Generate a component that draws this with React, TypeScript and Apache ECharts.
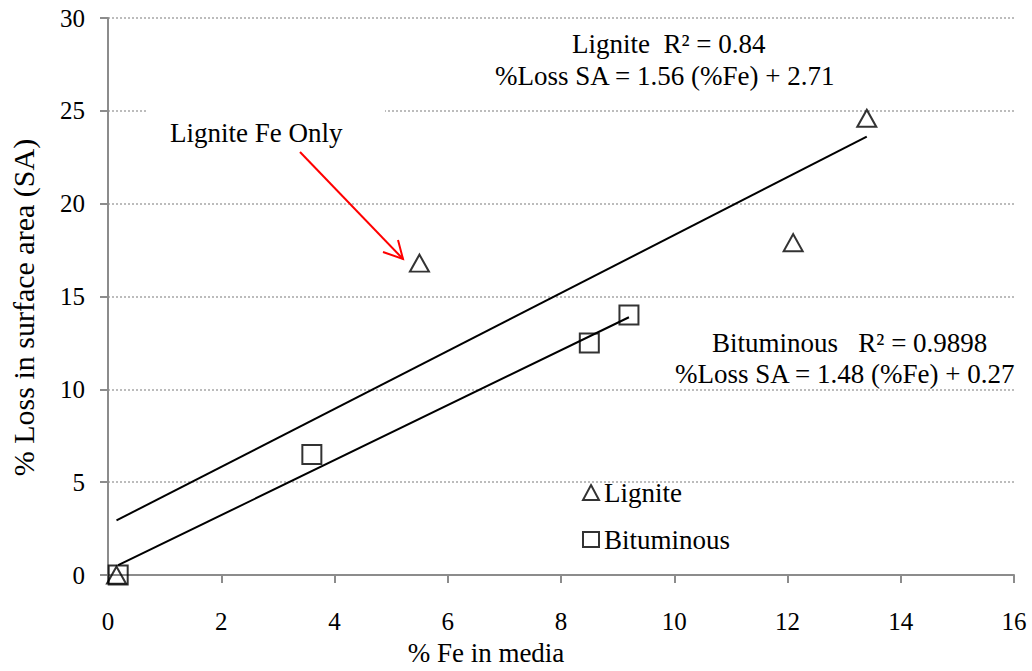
import React, { useEffect, useRef } from "react";
import * as echarts from "echarts";

// Measured points: [% Fe in media, % loss in surface area]
const ligniteData: [number, number][] = [
  [0.15, 0],
  [5.5, 16.8],
  [12.1, 17.9],
  [13.4, 24.6],
];
const bituminousData: [number, number][] = [
  [0.18, 0],
  [3.6, 6.5],
  [8.5, 12.5],
  [9.2, 14.0],
];

// Linear fits as stated in the annotations
const ligniteFit = { slope: 1.56, intercept: 2.71, xFrom: 0.15, xTo: 13.4 };
const bituminousFit = { slope: 1.48, intercept: 0.27, xFrom: 0.18, xTo: 9.2 };

const xTicks = [0, 2, 4, 6, 8, 10, 12, 14, 16];
const yTicks = [0, 5, 10, 15, 20, 25, 30];

const FONT = "'Liberation Serif', 'Times New Roman', serif";

function fitLine(f: { slope: number; intercept: number; xFrom: number; xTo: number }) {
  return [f.xFrom, f.xTo].map((x) => [x, f.slope * x + f.intercept]);
}

export default function App() {
  const ref = useRef<HTMLDivElement>(null);

  useEffect(() => {
    if (!ref.current) return;
    const chart = echarts.init(ref.current, undefined, { renderer: "svg" });
    const axisGray = "#8c8c8c";
    const txt = (text: string, left: number, top: number, z = 5) => ({
      type: "text",
      left,
      top,
      z,
      style: { text, fontFamily: FONT, fontSize: 27, fill: "#000" },
    });
    chart.setOption({
      animation: false,
      backgroundColor: "#ffffff",
      textStyle: { fontFamily: FONT },
      grid: { left: 105, right: 18, top: 18, bottom: 93 },
      xAxis: {
        type: "value",
        min: xTicks[0],
        max: xTicks[xTicks.length - 1],
        interval: 2,
        name: "% Fe in media",
        nameLocation: "middle",
        nameGap: 62,
        nameTextStyle: {
          fontFamily: FONT,
          fontSize: 27,
          color: "#000",
          padding: [0, 150, 0, 0],
        },
        axisLine: { show: true, onZero: false, lineStyle: { color: axisGray, width: 2 } },
        axisTick: { show: true, length: 8, lineStyle: { color: axisGray, width: 2 } },
        axisLabel: { fontFamily: FONT, fontSize: 25, color: "#000", margin: 34 },
        splitLine: { show: false },
      },
      yAxis: {
        type: "value",
        min: yTicks[0],
        max: yTicks[yTicks.length - 1],
        interval: 5,
        name: "% Loss in surface area (SA)",
        nameLocation: "middle",
        nameGap: 70,
        nameTextStyle: {
          fontFamily: FONT,
          fontSize: 30,
          color: "#000",
          padding: [0, 22, 0, 0],
        },
        axisLine: { show: true, lineStyle: { color: axisGray, width: 2 } },
        axisTick: { show: true, length: 8, lineStyle: { color: axisGray, width: 2 } },
        axisLabel: { fontFamily: FONT, fontSize: 25, color: "#000", margin: 23 },
        splitLine: { show: true, lineStyle: { color: "#a6a6a6", type: [2, 2], width: 1.5 } },
      },
      legend: {
        data: ["Lignite", "Bituminous"],
        orient: "vertical",
        left: 577,
        top: 474,
        itemGap: 20,
        itemWidth: 16,
        itemHeight: 15,
        textStyle: { fontFamily: FONT, fontSize: 27, lineHeight: 27, color: "#000" },
      },
      series: [
        {
          name: "Lignite fit",
          type: "line",
          data: fitLine(ligniteFit),
          showSymbol: false,
          lineStyle: { color: "#000", width: 2 },
          silent: true,
          z: 2,
        },
        {
          name: "Bituminous fit",
          type: "line",
          data: fitLine(bituminousFit),
          showSymbol: false,
          lineStyle: { color: "#000", width: 2 },
          silent: true,
          z: 2,
        },
        {
          name: "Bituminous",
          type: "scatter",
          data: bituminousData,
          symbol: "rect",
          symbolSize: 19,
          itemStyle: { color: "rgba(255,255,255,0)", borderColor: "#000", borderWidth: 2 },
          z: 3,
        },
        {
          name: "Lignite",
          type: "scatter",
          data: ligniteData,
          symbol: "triangle",
          symbolSize: [19, 17],
          itemStyle: { color: "rgba(255,255,255,0)", borderColor: "#000", borderWidth: 2 },
          z: 4,
        },
      ],
      graphic: [
        txt("Lignite  R² = 0.84", 572, 30),
        txt("%Loss SA = 1.56 (%Fe) + 2.71", 495, 62),
        txt("Bituminous   R² = 0.9898", 712, 329),
        txt("%Loss SA = 1.48 (%Fe) + 0.27", 675, 360),
        {
          type: "rect",
          shape: { x: 148, y: 106, width: 237, height: 10 },
          style: { fill: "#fff" },
          z: 10,
        },
        txt("Lignite Fe Only", 170, 119, 11),
        {
          type: "line",
          z: 11,
          shape: { x1: 300, y1: 152, x2: 403, y2: 259 },
          style: { stroke: "#ff0000", lineWidth: 2 },
        },
        {
          type: "polyline",
          z: 11,
          shape: { points: [[383, 252], [403, 259], [398, 240]] },
          style: { stroke: "#ff0000", lineWidth: 2, fill: "none" },
        },
      ],
    });
    return () => chart.dispose();
  }, []);

  return (
    <div
      ref={ref}
      style={{ position: "absolute", left: 0, top: 0, width: 1032, height: 671 }}
    />
  );
}
